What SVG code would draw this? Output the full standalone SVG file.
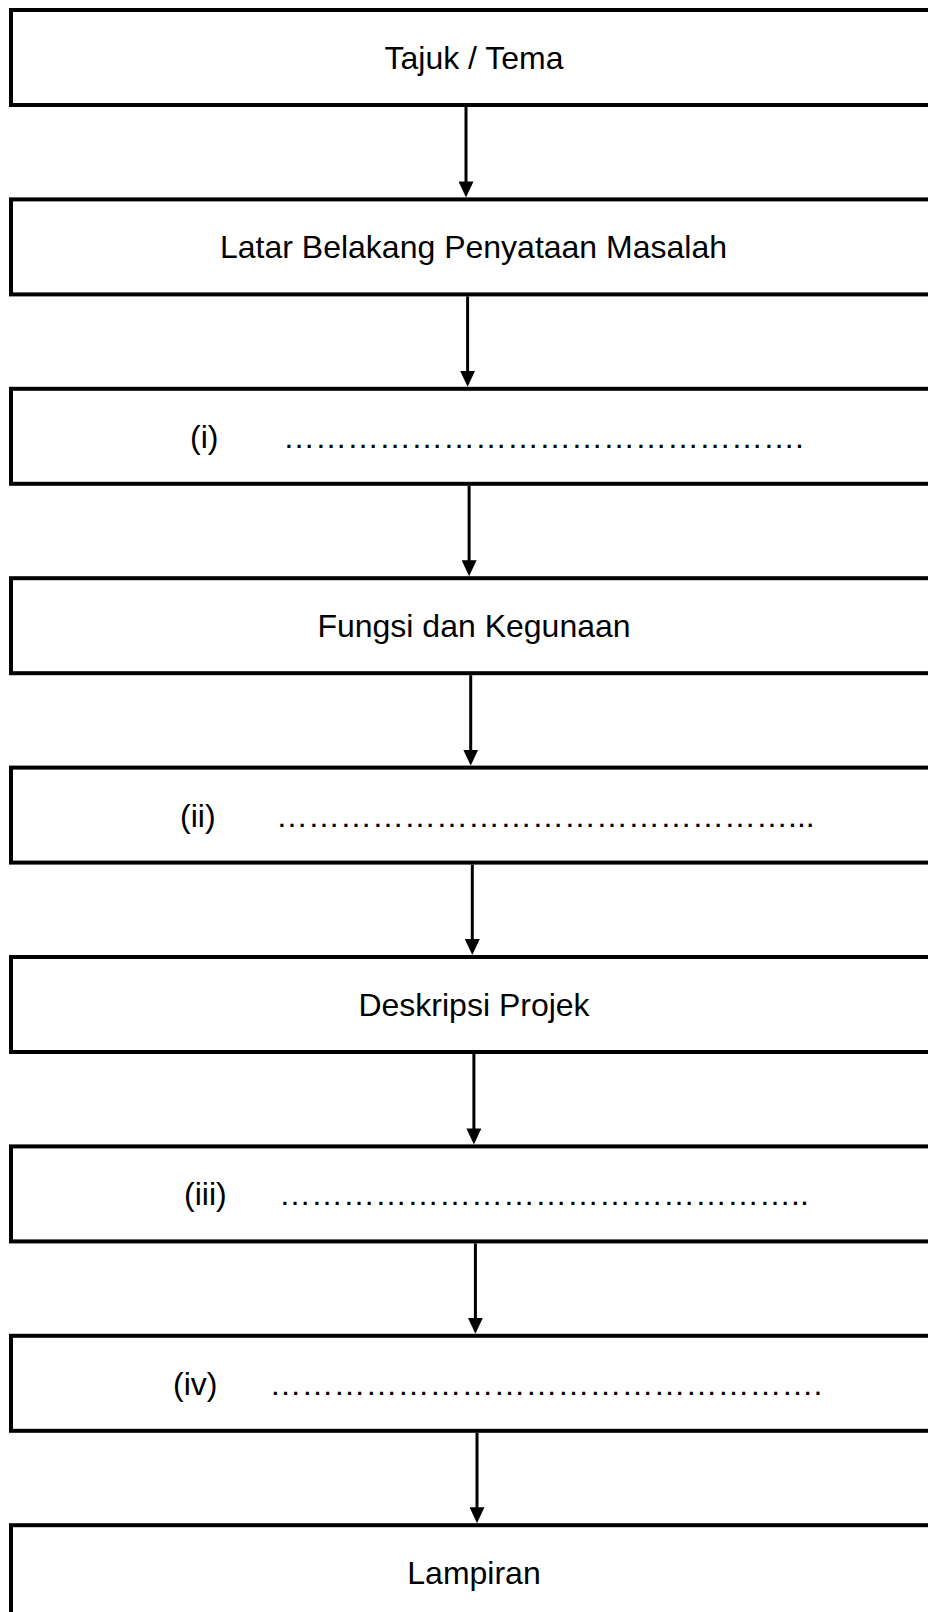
<svg xmlns="http://www.w3.org/2000/svg" width="928" height="1612" viewBox="0 0 928 1612">
<defs>
<style>
.box{fill:#fff;stroke:#000;stroke-width:4}
.lbl{font-family:"Liberation Sans",Arial,sans-serif;font-size:32px;fill:#000}
.c{text-anchor:middle}
.conn line{stroke:#000;stroke-width:3}
</style>
<marker id="ah" viewBox="0 0 16 15" refX="12" refY="7.5" markerWidth="16" markerHeight="15" markerUnits="userSpaceOnUse" orient="auto">
<path d="M0,0 L16,7.5 L0,15 z" fill="#000"/>
</marker>
</defs>
<rect width="928" height="1612" fill="#fff"/>
<g id="n1"><rect class="box" x="11" y="10" width="1000" height="95"/><text class="lbl c" x="474" y="69">Tajuk / Tema</text></g>
<g id="n2"><rect class="box" x="11" y="199.4" width="1000" height="95"/><text class="lbl c" x="473.5" y="258.4">Latar Belakang Penyataan Masalah</text></g>
<g id="n3"><rect class="box" x="11" y="388.8" width="1000" height="95"/><text class="lbl" x="190" y="447.8">(i)</text><text class="lbl" x="283" y="447.8">&#8230;&#8230;&#8230;&#8230;&#8230;&#8230;&#8230;&#8230;&#8230;&#8230;&#8230;&#8230;&#8230;&#8230;&#8230;&#8230;.</text></g>
<g id="n4"><rect class="box" x="11" y="578.2" width="1000" height="95"/><text class="lbl c" x="474" y="637.2">Fungsi dan Kegunaan</text></g>
<g id="n5"><rect class="box" x="11" y="767.6" width="1000" height="95"/><text class="lbl" x="180" y="826.6">(ii)</text><text class="lbl" x="276" y="826.6">&#8230;&#8230;&#8230;&#8230;&#8230;&#8230;&#8230;&#8230;&#8230;&#8230;&#8230;&#8230;&#8230;&#8230;&#8230;&#8230;...</text></g>
<g id="n6"><rect class="box" x="11" y="957" width="1000" height="95"/><text class="lbl c" x="474" y="1016">Deskripsi Projek</text></g>
<g id="n7"><rect class="box" x="11" y="1146.4" width="1000" height="95"/><text class="lbl" x="184" y="1205.4">(iii)</text><text class="lbl" x="279" y="1205.4">&#8230;&#8230;&#8230;&#8230;&#8230;&#8230;&#8230;&#8230;&#8230;&#8230;&#8230;&#8230;&#8230;&#8230;&#8230;&#8230;..</text></g>
<g id="n8"><rect class="box" x="11" y="1335.8" width="1000" height="95"/><text class="lbl" x="173" y="1394.8">(iv)</text><text class="lbl" x="269.5" y="1394.8">&#8230;&#8230;&#8230;&#8230;&#8230;&#8230;&#8230;&#8230;&#8230;&#8230;&#8230;&#8230;&#8230;&#8230;&#8230;&#8230;&#8230;.</text></g>
<g id="n9"><rect class="box" x="11" y="1525.2" width="1000" height="95"/><text class="lbl c" x="474" y="1584.2">Lampiran</text></g>
<g id="connectors" class="conn">
<line x1="466" y1="107" x2="466" y2="193.4" marker-end="url(#ah)"/>
<line x1="467.6" y1="296.4" x2="467.6" y2="382.8" marker-end="url(#ah)"/>
<line x1="469.1" y1="485.8" x2="469.1" y2="572.2" marker-end="url(#ah)"/>
<line x1="470.7" y1="675.2" x2="470.7" y2="761.6" marker-end="url(#ah)"/>
<line x1="472.3" y1="864.6" x2="472.3" y2="951" marker-end="url(#ah)"/>
<line x1="473.9" y1="1054" x2="473.9" y2="1140.4" marker-end="url(#ah)"/>
<line x1="475.4" y1="1243.4" x2="475.4" y2="1329.8" marker-end="url(#ah)"/>
<line x1="477" y1="1432.8" x2="477" y2="1519.2" marker-end="url(#ah)"/>
</g>
</svg>
